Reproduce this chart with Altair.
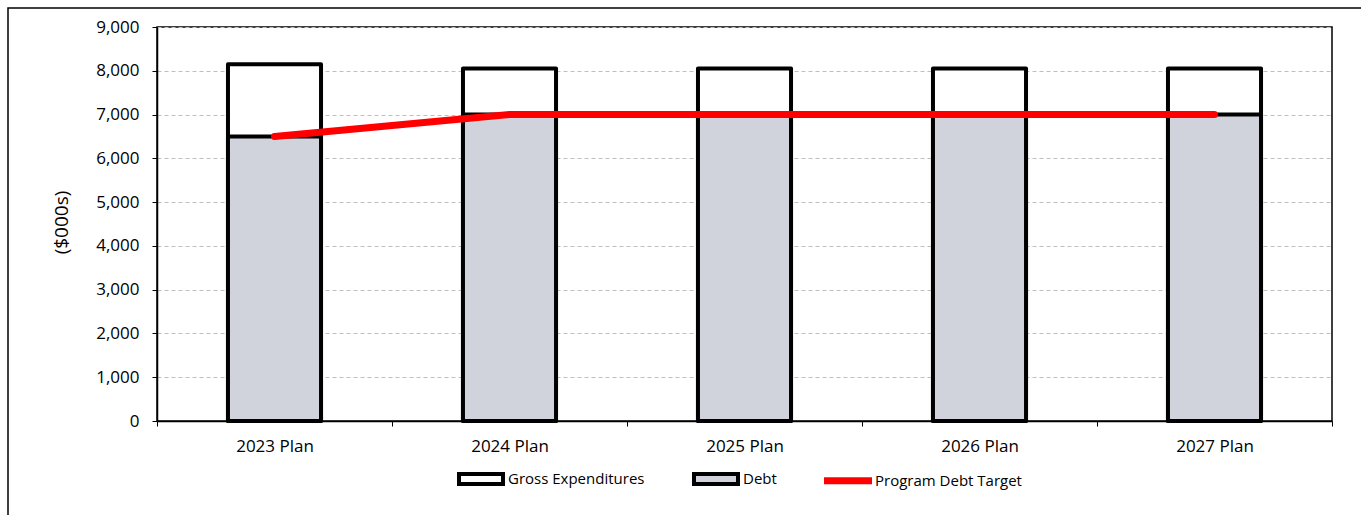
import altair as alt
import pandas as pd

categories = ["2023 Plan", "2024 Plan", "2025 Plan", "2026 Plan", "2027 Plan"]
gross_expenditures = [8150, 8050, 8050, 8050, 8050]
debt = [6500, 7000, 7000, 7000, 7000]
debt_target = [6500, 7000, 7000, 7000, 7000]
series_names = ["Gross Expenditures", "Debt", "Program Debt Target"]
y_ticks = [0, 1000, 2000, 3000, 4000, 5000, 6000, 7000, 8000, 9000]

df = pd.DataFrame({
    "category": categories,
    "gross": gross_expenditures,
    "debt": debt,
    "target": debt_target,
})
legend_df = pd.DataFrame({"series": series_names})

FONT = "Open Sans"
PLOT_W, PLOT_H = 1175, 394
PAD_L, PAD_T = 157, 27

x_enc = alt.X(
    "category:N",
    sort=categories,
    title=None,
    scale=alt.Scale(paddingInner=0, paddingOuter=0),
    axis=alt.Axis(
        labelAngle=0, tickBand="extent", labelFont=FONT, labelFontSize=17,
        labelColor="#000000", tickColor="#000000", tickSize=5, labelPadding=12,
        domainColor="#000000", domainWidth=1.5, grid=False,
    ),
)
y_scale = alt.Scale(domain=[0, 9000], nice=False)
y_axis = alt.Axis(
    values=y_ticks,
    format=",d", labelFont=FONT, labelFontSize=17, labelColor="#000000",
    tickColor="#000000", tickSize=5, labelPadding=13,
    domainColor="#000000", domainWidth=1.5,
    grid=True, gridColor="#bfbfbf", gridDash=[4, 3], gridWidth=1,
    title="($000s)", titleFont=FONT, titleFontSize=19, titleFontWeight="normal",
    titleColor="#000000", titleAngle=270, titleAlign="center", titleBaseline="middle",
    titleX=-96, titleY=195,
)

base = alt.Chart(df)

gross_bars = base.mark_bar(
    width=alt.RelativeBandSize(0.396), fill="#ffffff", stroke="#000000",
    strokeWidth=4, strokeJoin="round",
).encode(
    x=x_enc,
    y=alt.Y("gross:Q", scale=y_scale, axis=y_axis),
)

debt_bars = base.mark_bar(
    width=alt.RelativeBandSize(0.396), fill="#d0d3db", stroke="#000000",
    strokeWidth=4, strokeJoin="round",
).encode(
    x=alt.X("category:N", sort=categories),
    y=alt.Y("debt:Q", scale=y_scale),
)

target_line = base.mark_line(
    color="#ff0000", strokeWidth=7, strokeCap="round",
).encode(
    x=alt.X("category:N", sort=categories),
    y=alt.Y("target:Q", scale=y_scale),
)

legend_props = alt.Legend(
    orient="none", direction="horizontal", legendX=300, legendY=428,
    labelFont=FONT, labelFontSize=15, labelColor="#000000", labelOffset=3,
    columnPadding=41, symbolSize=1936, symbolStrokeWidth=4,
    symbolOpacity=1, padding=0,
)

legend_layer = alt.Chart(legend_df).mark_point(opacity=0, filled=True).encode(
    fill=alt.Fill(
        "series:N", title=None,
        scale=alt.Scale(domain=series_names, range=["#ffffff", "#d0d3db", "#ff0000"]),
        legend=legend_props,
    ),
    stroke=alt.Stroke(
        "series:N", title=None,
        scale=alt.Scale(domain=series_names, range=["#000000", "#000000", "#ff0000"]),
        legend=legend_props,
    ),
    shape=alt.Shape(
        "series:N", title=None,
        scale=alt.Scale(
            domain=series_names,
            range=["M-1,-0.227H1V0.227H-1Z", "M-1,-0.227H1V0.227H-1Z", "M-1,-0.07H1V0.07H-1Z"],
        ),
        legend=legend_props,
    ),
)

frame = alt.Chart(alt.Data(values=[{"frame": 1}])).mark_rect(
    fill="transparent", stroke="#000000", strokeWidth=1.5,
).encode(
    x=alt.value(8 - PAD_L), x2=alt.value(1400 - PAD_L),
    y=alt.value(8 - PAD_T), y2=alt.value(560 - PAD_T),
)

chart = alt.layer(
    frame, gross_bars, debt_bars, target_line, legend_layer
).properties(
    width=PLOT_W, height=PLOT_H,
    padding={"left": PAD_L, "top": PAD_T, "right": 1361 - PAD_L - PLOT_W, "bottom": 515 - PAD_T - PLOT_H},
    autosize=alt.AutoSizeParams(type="none"),
    background="#ffffff",
).configure_view(
    stroke="#000000", strokeWidth=1.5,
)

chart.save("out.html", embed_options={"renderer": "svg", "actions": False})
